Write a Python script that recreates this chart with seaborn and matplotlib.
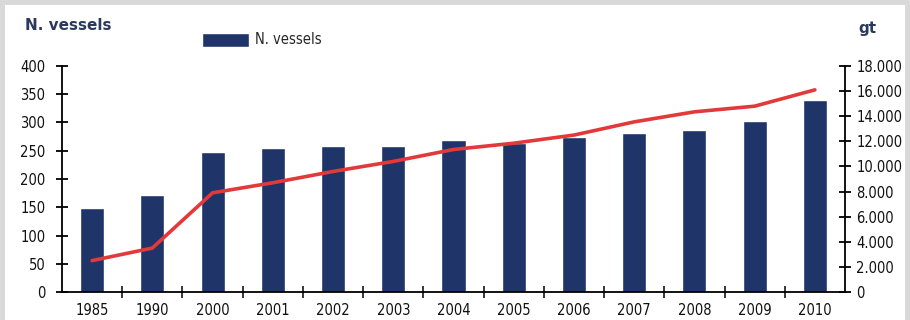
import matplotlib
matplotlib.use("Agg")
import matplotlib.pyplot as plt
import matplotlib.patches as mpatches
from matplotlib.ticker import FixedLocator
import seaborn as sns
import numpy as np
import pandas as pd

years = ["1985", "1990", "2000", "2001", "2002", "2003", "2004",
         "2005", "2006", "2007", "2008", "2009", "2010"]
vessels = [148, 172, 248, 255, 259, 259, 269, 264, 275, 282, 286, 302, 340]
gt = [2500, 3500, 7900, 8700, 9600, 10400, 11350, 11850, 12500, 13550, 14350, 14800, 16100]
left_ticks = [0, 50, 100, 150, 200, 250, 300, 350, 400]
right_ticks = [0, 2000, 4000, 6000, 8000, 10000, 12000, 14000, 16000, 18000]
right_labels = ["0", "2.000", "4.000", "6.000", "8.000", "10.000",
                "12.000", "14.000", "16.000", "18.000"]

sns.set_theme(style="white")
plt.rcParams["font.family"] = ["DejaVu Sans"]
plt.rcParams["font.stretch"] = "condensed"

navy = "#1f3468"
red = "#e2393a"
txt = "#2b3a5c"
tick_fs = 10.5

df = pd.DataFrame({"year": years, "vessels": vessels})

fig = plt.figure(figsize=(9.1, 3.2), dpi=100)
fig.patch.set_facecolor("#d9d9d9")
fig.patches.append(mpatches.Rectangle((5 / 910, 0), 900 / 910, 1 - 5 / 320,
                                      transform=fig.transFigure, facecolor="white",
                                      edgecolor="none", zorder=-10))

ax = fig.add_axes([62 / 910, 1 - 292 / 320, (845 - 62) / 910, (292 - 66) / 320])
ax.set_facecolor("none")
sns.barplot(data=df, x="year", y="vessels", color=navy, width=0.4, saturation=1,
            ax=ax, label="N. vessels", zorder=2)
ax.set_xlim(-0.5, len(years) - 0.5)
ax.set_ylim(0, 400)
ax.set_yticks(left_ticks)
ax.set_xlabel("")
ax.set_ylabel("")

# gross tonnage on the right axis
ax2 = ax.twinx()
sns.lineplot(x=np.arange(len(years)), y=gt, color=red, lw=2.6, ax=ax2, zorder=3)
ax2.set_ylim(0, 18000)
ax2.set_yticks(right_ticks)
ax2.set_yticklabels(right_labels)
ax2.set_ylabel("")

for a in (ax, ax2):
    for s in a.spines.values():
        s.set_visible(False)
        s.set_color("black")
        s.set_linewidth(1.3)
ax.spines["left"].set_visible(True)
ax.spines["bottom"].set_visible(True)
ax2.spines["right"].set_visible(True)

ax.tick_params(axis="y", direction="inout", length=8, width=1.3, left=True,
               labelsize=tick_fs, pad=8, colors="black")
ax.tick_params(axis="x", which="major", length=0, labelsize=tick_fs, pad=8, colors="black")
ax.xaxis.set_minor_locator(FixedLocator(np.arange(0.5, len(years) - 1, 1.0)))
ax.tick_params(axis="x", which="minor", direction="inout", length=8, width=1.3, bottom=True)
ax2.tick_params(axis="y", direction="inout", length=8, width=1.3, right=True,
                labelsize=tick_fs, pad=4, colors="black")
for lab in ax.get_xticklabels() + ax.get_yticklabels() + ax2.get_yticklabels():
    lab.set_color("#111111")

fig.text(25 / 910, 1 - 25 / 320, "N. vessels", fontsize=11, fontweight="bold",
         color=txt, va="center", ha="left", fontstretch="normal")
fig.text(858 / 910, 1 - 28 / 320, "gt", fontsize=11, fontweight="bold",
         color=txt, va="center", ha="left", fontstretch="normal")

handles, labels = ax.get_legend_handles_labels()
if ax.get_legend() is not None:
    ax.get_legend().remove()
fig.legend(handles[:1], labels[:1], loc="center left",
           bbox_to_anchor=(189 / 910, 1 - 40 / 320), frameon=False,
           handlelength=3.2, handleheight=1.1, fontsize=tick_fs, handletextpad=0.4)

fig.savefig("out.png", dpi=100, facecolor=fig.get_facecolor())
